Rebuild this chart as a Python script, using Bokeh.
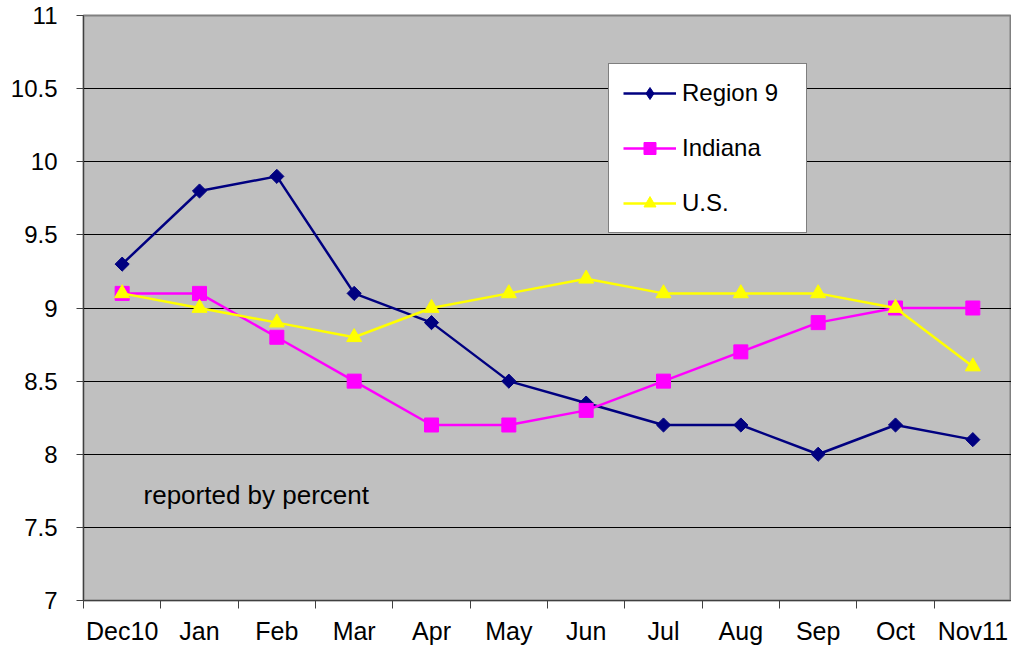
import math
from bokeh.plotting import figure
from bokeh.models import (FixedTicker, CustomJSTickFormatter, Legend, LegendItem,
                          Label, Range1d)
from bokeh.embed import file_html
from bokeh.resources import INLINE

months = ["Dec10", "Jan", "Feb", "Mar", "Apr", "May", "Jun", "Jul", "Aug", "Sep", "Oct", "Nov11"]
region9 = [9.3, 9.8, 9.9, 9.1, 8.9, 8.5, 8.35, 8.2, 8.2, 8.0, 8.2, 8.1]
indiana = [9.1, 9.1, 8.8, 8.5, 8.2, 8.2, 8.3, 8.5, 8.7, 8.9, 9.0, 9.0]
us = [9.1, 9.0, 8.9, 8.8, 9.0, 9.1, 9.2, 9.1, 9.1, 9.1, 9.0, 8.6]
y_ticks = [7, 7.5, 8, 8.5, 9, 9.5, 10, 10.5, 11]
note = "reported by percent"

FONT = "Liberation Sans"

n = len(months)
x = [i + 0.5 for i in range(n)]

p = figure(width=1011, height=647, output_backend="svg", toolbar_location=None,
           x_range=Range1d(0, n), y_range=Range1d(7, 11),
           min_border_left=83, min_border_right=0, min_border_top=15, min_border_bottom=40)
p.background_fill_color = "#C0C0C0"
p.border_fill_color = "white"
p.outline_line_color = "#808080"
p.outline_line_width = 2

# x axis: labels at category centres, ticks at category boundaries
p.xaxis.ticker = FixedTicker(ticks=x, minor_ticks=list(range(n + 1)))
p.xaxis.formatter = CustomJSTickFormatter(args=dict(m=months),
                                          code="return m[Math.floor(tick)];")
p.xaxis.major_tick_line_color = None
p.xaxis.major_tick_out = 0
p.xaxis.major_tick_in = 0
p.xaxis.minor_tick_line_color = "#404040"
p.xaxis.minor_tick_out = 8
p.xaxis.minor_tick_in = 0
p.xaxis.major_label_standoff = 8
p.xaxis.axis_line_color = "#404040"
p.xaxis.major_label_text_font_size = "25px"

# y axis
p.yaxis.ticker = FixedTicker(ticks=y_ticks)
p.yaxis.formatter = CustomJSTickFormatter(code="return tick.toString();")
p.yaxis.major_tick_out = 7
p.yaxis.major_tick_in = 0
p.yaxis.major_tick_line_color = "#404040"
p.yaxis.minor_tick_line_color = None
p.yaxis.major_label_standoff = 19
p.yaxis.axis_line_color = "#404040"
p.yaxis.major_label_text_font_size = "24px"

for ax in (p.xaxis, p.yaxis):
    ax.major_label_text_font = FONT
    ax.major_label_text_color = "black"

p.xgrid.visible = False
p.ygrid.ticker = FixedTicker(ticks=y_ticks)
p.ygrid.grid_line_color = "black"
p.ygrid.grid_line_width = 1

navy, mag, yel = "#000080", "#FF00FF", "#FFFF00"

l1 = p.line(x, region9, line_color=navy, line_width=2.5)
m1 = p.scatter(x, region9, marker="square", size=10, angle=math.pi / 4,
               fill_color=navy, line_color=navy)
l2 = p.line(x, indiana, line_color=mag, line_width=2.5)
m2 = p.scatter(x, indiana, marker="square", size=14, fill_color=mag, line_color=mag)
l3 = p.line(x, us, line_color=yel, line_width=2.5)
m3 = p.scatter(x, us, marker="triangle", size=15, fill_color=yel, line_color=yel)

# hidden diamond renderer used only for the legend swatch
leg_d = p.scatter(x, region9, marker="diamond", size=15, fill_color=navy,
                  line_color=navy, visible=False)

legend = Legend(items=[
    LegendItem(label="Region 9", renderers=[l1, leg_d]),
    LegendItem(label="Indiana", renderers=[l2, m2]),
    LegendItem(label="U.S.", renderers=[l3, m3]),
], location=(525, 367))
legend.border_line_color = "black"
legend.border_line_width = 1
legend.background_fill_color = "white"
legend.background_fill_alpha = 1
legend.label_text_font = FONT
legend.label_text_font_size = "24px"
legend.label_text_color = "black"
legend.glyph_width = 53
legend.glyph_height = 30
legend.label_height = 30
legend.label_width = 110
legend.spacing = 25
legend.padding = 14
legend.margin = 0
legend.label_standoff = 6
p.add_layout(legend, "center")

p.add_layout(Label(x=0.776, y=7.72, text=note, text_font=FONT, text_font_size="26px",
                   text_color="black", text_baseline="alphabetic"))

open("out.html", "w").write(file_html(p, INLINE))
